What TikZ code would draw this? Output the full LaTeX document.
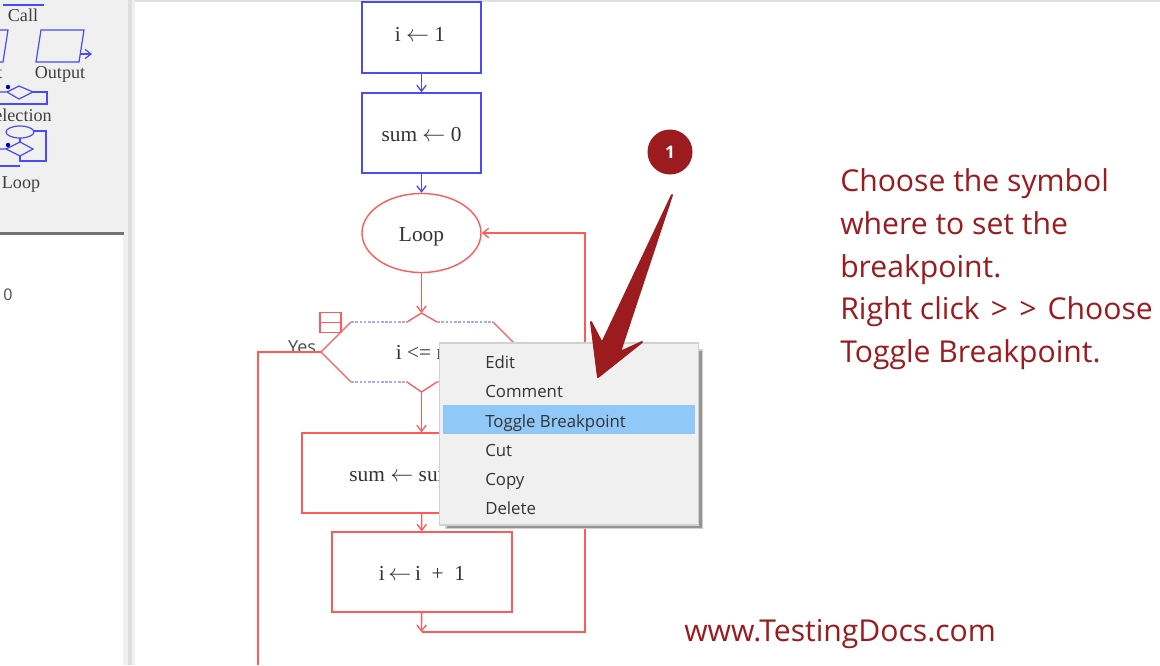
\documentclass[tikz,border=0pt]{standalone}
\usepackage{fontspec}
\setmainfont{Liberation Serif}
\newfontfamily\uifont{Open Sans}
\usetikzlibrary{shapes.geometric,arrows.meta}
\definecolor{flowred}{HTML}{FF5A5A}
\definecolor{flowblue}{HTML}{4A4AF8}
\definecolor{dashblue}{HTML}{A8A8FF}
\definecolor{notered}{HTML}{9B1B1E}
\definecolor{panelgray}{HTML}{F0F0F0}
\definecolor{menublue}{HTML}{90C8F8}
\newcommand{\px}{0.75pt}
\newcommand{\assign}{\ensuremath{\leftarrow}}
\tikzset{
    >={Straight Barb[length=4.5pt,width=7pt]},
    flowtext/.style={font=\fontsize{16}{18}\selectfont, text=black!80},
    flowbox/.style={rectangle, draw, line width=1.05pt, flowtext, text height=13pt, text depth=0pt},
    menuitem/.style={anchor=base west, font=\uifont\fontsize{12.6}{14}\selectfont, text=black!80, inner sep=0pt},
    palettetext/.style={anchor=base, font=\fontsize{13.6}{15}\selectfont, text=black!75, inner sep=0pt},
    noteline/.style={font=\uifont\fontsize{22.6}{32.2}\selectfont, text=notered, inner sep=0pt}
}
\begin{document}
\begin{tikzpicture}[x=\px, y=-\px]
    \useasboundingbox (0,0) rectangle (1160,665);
    \fill[white] (0,0) rectangle (1160,665);

    % Left palette
    \fill[panelgray] (0,0) rectangle (125,233);
    \fill[panelgray] (123,0) rectangle (135,665);
    \fill[black!13] (128,0) rectangle (132,665);
    \fill[black!55] (0,232) rectangle (124,235);
    \fill[black!12] (135,0) rectangle (1160,2);
    \begin{scope}[flowblue, line width=0.9pt]
        \draw (3,5) -- (44,5);
        \draw (0,30) -- (8,30) -- (3,62) -- (0,62);
        \draw (36,62) -- (41,30) -- (84,30) -- (79,62) -- cycle;
        \draw[->] (80,54) -- (92,54);
        \draw (0,92) -- (7,92) -- (19,86) -- (33,92) -- (19,99) -- (7,92);
        \draw (33,92) -- (47,92) -- (47,104) -- (0,104);
        \draw (20,132) ellipse (14 and 6);
        \draw (20,138) -- (20,142);
        \draw (0,149) -- (6,149) -- (20,142) -- (33,149) -- (20,156) -- (6,149);
        \draw (34,131) -- (46,131) -- (46,161) -- (20,161) -- (20,156);
        \draw (0,166) -- (20,166);
    \end{scope}
    \fill[blue!70!black] (8,87) circle (2.2);
    \fill[blue!70!black] (8,145) circle (2.2);
    \node[palettetext] (callname) at (23,21) {Call};
    \node[palettetext] (inputname) at (0,78) {t};
    \node[palettetext] (outputname) at (60,78) {Output};
    \node[palettetext, anchor=base east] (selectionname) at (52,121) {election};
    \node[palettetext] (loopname) at (21,188) {Loop};
    \node[inner sep=0pt, text=black!70, font=\uifont\fontsize{12}{14}\selectfont] (zero) at (8,295) {0};

    % Flow symbols
    \node[flowbox, flowblue, minimum width=119*\px, minimum height=71*\px, text=black!80] (init) at (421.5,37.5) {};
    \node[flowtext] (inittext) at (420,34) {i \assign\ 1};
    \node[flowbox, flowblue, minimum width=119*\px, minimum height=80*\px, text=black!80] (sum) at (421.5,133) {sum \assign\ 0};
    \node[flowbox, ellipse, flowred, minimum width=119*\px, minimum height=79*\px, text=black!80] (loop) at (421.5,233) {Loop};
    \node[flowbox, flowred, minimum width=239*\px, minimum height=80*\px, text=black!80] (add) at (421.5,473) {sum \assign\ sum\ \ +\ \ i};
    \node[flowbox, flowred, minimum width=180*\px, minimum height=80*\px, text=black!80] (incr) at (422,572) {i\,\assign\,i\ \ +\ \ 1};

    % Selection symbol
    \node[inner sep=0pt, flowtext] (test) at (421.5,352) {i <= n};
    \foreach \name/\xpos/\ypos in {left/321/352, ul/351/322, ua/407/322, top/421.5/313, ub/437/322, uc/493/322,
        right/523/352, lc/493/382, lb/437/382, bottom/421.5/392, la/407/382, ll/351/382} {
        \coordinate (\name) at (\xpos,\ypos);
    }
    \draw[flowred, line width=1pt] (ll) -- (left) -- (ul);
    \draw[flowred, line width=1pt] (ua) -- (top) -- (ub);
    \draw[flowred, line width=1pt] (uc) -- (right) -- (lc);
    \draw[flowred, line width=1pt] (lb) -- (bottom) -- (la);
    \foreach \a/\b in {ul/ua, ub/uc, ll/la, lb/lc} {
        \draw[dashblue, line width=1pt, dash pattern=on 2pt off 1.2pt] (\a) -- (\b);
    }
    \node[draw=flowred, line width=1.1pt, minimum width=21*\px, minimum height=20*\px, inner sep=0pt] (brk) at (330.5,322.5) {};
    \draw[flowred, line width=1.1pt] (brk.west) -- (brk.east);
    \node[inner sep=0pt, text=black!70, font=\uifont\fontsize{13.5}{15}\selectfont] (yes) at (302,347) {Yes};

    % Connectors
    \draw[->, flowblue, line width=1pt] (init) -- (sum);
    \draw[->, flowblue, line width=1pt] (sum) -- (loop);
    \begin{scope}[flowred, line width=1pt]
        \draw[->] (loop) -- (top);
        \draw[->] (bottom) -- (add);
        \draw[->] (add) -- (incr);
        \coordinate (joint) at (421.5,632);
        \coordinate (rcorner) at (585,632);
        \coordinate (tcorner) at (585,233);
        \coordinate (yescorner) at (258,352);
        \coordinate (yesend) at (258,665);
        \draw[->] (incr) -- (joint);
        \draw[->] (joint) -- (rcorner) -- (tcorner) -- (loop);
        \draw (left) -- (yescorner) -- (yesend);
    \end{scope}

    % Context menu
    \fill[black!18] (445,349) rectangle (703,529);
    \fill[black!42] (447,351) rectangle (701.5,527.5);
    \node[draw=black!18, fill=panelgray, line width=0.8pt, minimum width=259*\px, minimum height=182*\px] (menu) at (569,434) {};
    \fill[menublue] (443,405) rectangle (695,434);
    \foreach \ypos/\label in {368/Edit, 397/Comment, 427/Toggle Breakpoint, 456/Cut, 485/Copy, 514/Delete} {
        \node[menuitem] (item\ypos) at (485,\ypos) {\label};
    }

    % Callout
    \fill[notered, draw=notered, line width=1.5pt, line join=round]
        (598,377) -- (591,322) -- (602,343) -- (672,195) -- (620,352) -- (642,342) -- cycle;
    \node[circle, fill=notered, text=white, minimum size=45*\px, inner sep=0pt, font=\uifont\bfseries\fontsize{13}{15}\selectfont] (badge) at (670,152) {1};
    \node[noteline, align=left, anchor=north west] (note) at (840,168)
        {Choose the symbol\\where to set the\\breakpoint.\\Right click\hspace{2.5pt} >\hspace{2.5pt} >\hspace{2.5pt} Choose\\Toggle Breakpoint.};
    \node[noteline, anchor=west] (site) at (684,634) {www.TestingDocs.com};
\end{tikzpicture}
\end{document}
